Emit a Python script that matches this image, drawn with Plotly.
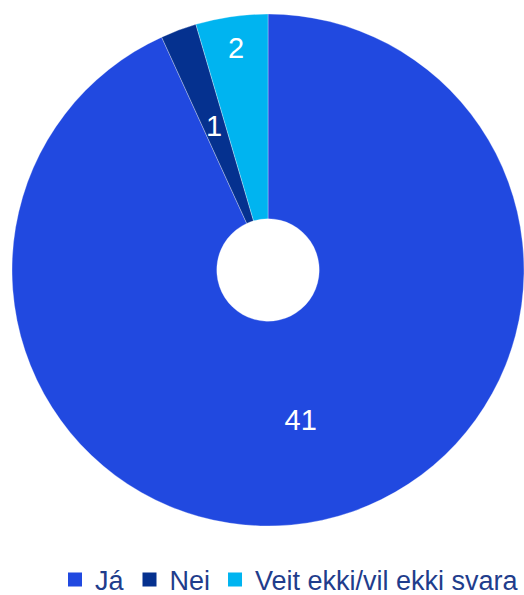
import math
import plotly.graph_objects as go

labels = ["Já", "Nei", "Veit ekki/vil ekki svara"]
values = [41, 1, 2]
colors = ["#2149E0", "#05318F", "#00B4F0"]

W, H = 524, 595
cx, cy, R = 268, 270, 256

# show labels via plotly except the thin "Nei" slice, which is annotated at 0.6R
texts = [str(v) for v in values]
texts[1] = ""

fig = go.Figure(go.Pie(
    labels=labels,
    values=values,
    text=texts,
    sort=False,
    direction="clockwise",
    rotation=0,
    hole=0.2,
    marker=dict(colors=colors, line=dict(color="rgba(255,255,255,0.6)", width=0.5)),
    textinfo="text",
    textposition="inside",
    insidetextorientation="horizontal",
    textfont=dict(family="Liberation Sans, Arial, sans-serif", size=29, color="white"),
    domain=dict(x=[(cx - R) / W, min(1, (cx + R) / W)], y=[(H - cy - R) / H, (H - cy + R) / H]),
    hoverinfo="label+value+percent",
    showlegend=False,
))

# legend entries with larger square swatches
for lab, col in zip(labels, colors):
    fig.add_trace(go.Scatter(
        x=[None], y=[None], mode="markers", name=lab,
        marker=dict(symbol="square", size=14, color=col),
        showlegend=True, hoverinfo="skip",
    ))

total = sum(values)
cum = sum(values[:1])
mid = (cum + values[1] / 2) / total * 2 * math.pi
r_lab = 0.6 * R
ax = cx + r_lab * math.sin(mid)
ay = cy - r_lab * math.cos(mid)
fig.add_annotation(
    x=ax / W, y=(H - ay) / H, xref="paper", yref="paper",
    text=str(values[1]), showarrow=False,
    font=dict(family="Liberation Sans, Arial, sans-serif", size=29, color="white"),
    xanchor="center", yanchor="middle",
)

fig.update_layout(
    width=W, height=H,
    margin=dict(l=0, r=0, t=0, b=0, autoexpand=False),
    paper_bgcolor="white",
    plot_bgcolor="white",
    font=dict(family="Liberation Sans, Arial, sans-serif"),
    xaxis=dict(visible=False),
    yaxis=dict(visible=False),
    legend=dict(
        orientation="h",
        x=1, xanchor="right", xref="container",
        y=(H - 580) / H, yanchor="middle", yref="container",
        font=dict(size=27, color="#1F3D8C"),
        itemsizing="trace",
        traceorder="normal",
    ),
    showlegend=True,
)

fig.write_html("out.html", config={"displayModeBar": False},
               post_script="document.body.style.margin='0';")
